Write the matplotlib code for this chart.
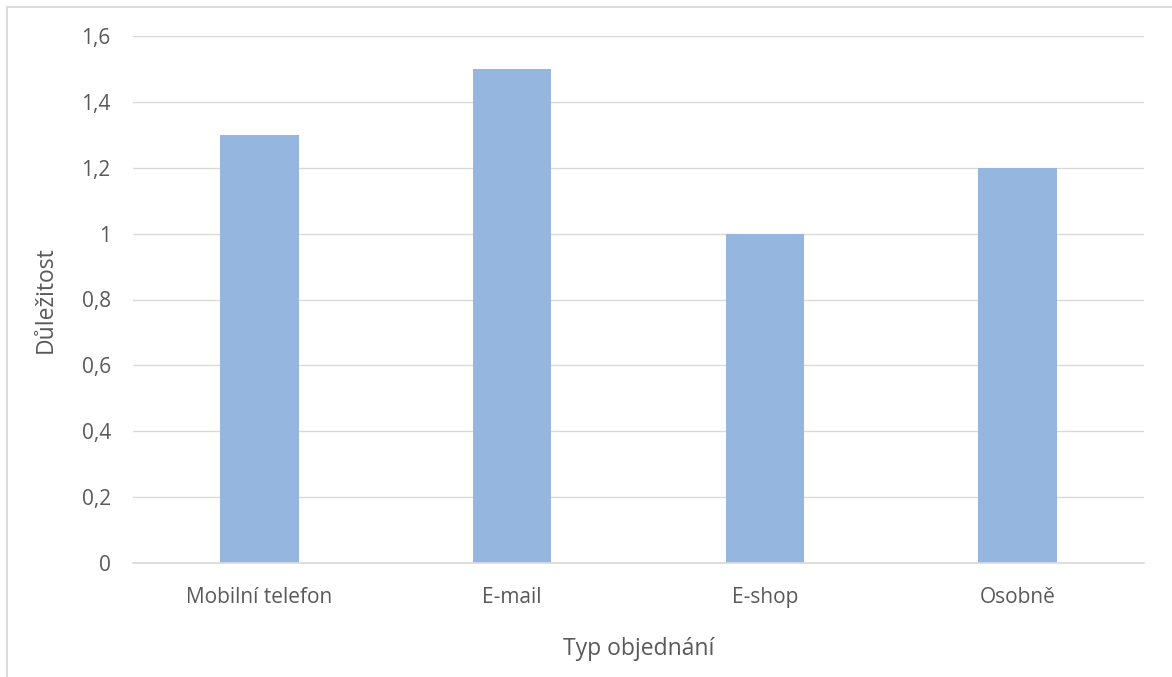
import matplotlib
matplotlib.use("Agg")
import matplotlib.pyplot as plt
from matplotlib.patches import Rectangle
from matplotlib.ticker import FixedLocator, FuncFormatter

categories = ["Mobilní telefon", "E-mail", "E-shop", "Osobně"]
values = [1.3, 1.5, 1.0, 1.2]
y_ticks = [0, 0.2, 0.4, 0.6, 0.8, 1.0, 1.2, 1.4, 1.6]

W, H = 1172, 677
fig = plt.figure(figsize=(W / 100, H / 100), dpi=100)
plt.rcParams["font.family"] = ["Open Sans", "DejaVu Sans"]

text_color = "#595959"
grid_color = "#D9D9D9"
bar_color = "#95B7DF"

# chart frame (runs off the right and bottom edges)
fig.patches.append(Rectangle((6.5 / W, -0.05), 1.2, 1 - 6.5 / H + 0.05,
                             transform=fig.transFigure, fill=False,
                             edgecolor=grid_color, linewidth=1.3))

ax = fig.add_axes([133 / W, 1 - 563 / H, (1144 - 133) / W, (563 - 36) / H])
x = range(len(categories))
ax.bar(x, values, width=0.31, color=bar_color, zorder=2)
ax.set_xlim(-0.5, len(categories) - 0.5)
ax.set_ylim(0, 1.6)

ax.yaxis.set_major_locator(FixedLocator(y_ticks))
ax.yaxis.set_major_formatter(FuncFormatter(
    lambda v, p: ("%g" % round(v, 1)).replace(".", ",")))
ax.set_xticks(list(x))
ax.set_xticklabels(categories)

ax.grid(axis="y", color=grid_color, linewidth=1.0, zorder=0)
for s in ["top", "right", "left"]:
    ax.spines[s].set_visible(False)
ax.spines["bottom"].set_color(grid_color)
ax.spines["bottom"].set_linewidth(1.2)
ax.spines["bottom"].set_zorder(3)

ax.tick_params(axis="both", length=0, colors=text_color, labelsize=15)
ax.tick_params(axis="y", pad=16)
ax.tick_params(axis="x", pad=17)

ax.set_ylabel("Důležitost", color=text_color, fontsize=16.5, labelpad=17)
ax.set_xlabel("Typ objednání", color=text_color, fontsize=16.5, labelpad=21)

fig.savefig("out.png", dpi=100, facecolor="white")
